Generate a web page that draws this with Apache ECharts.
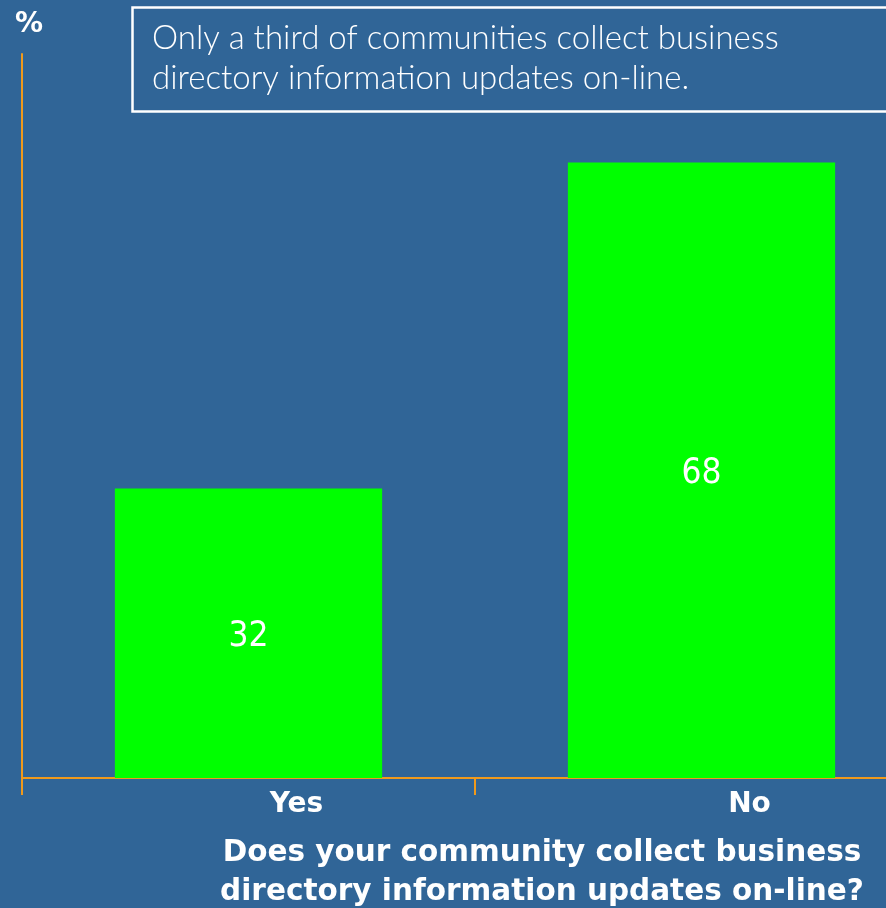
<!DOCTYPE html>
<html>
<head>
<meta charset="utf-8">
<script src="https://cdn.jsdelivr.net/npm/echarts@6/dist/echarts.min.js"></script>
<style>
  html, body { margin: 0; padding: 0; background: #306597; }
  #chart { width: 886px; height: 908px; }
</style>
</head>
<body>
<div id="chart"></div>
<script>
// Survey answers and the share of communities giving each
const categories = ['Yes', 'No'];
const percentages = [32, 68];
const yAxisMax = 80;

const headline = ['Only a third of communities collect business', 'directory information updates on-line.'];
const question = ['Does your community collect business', 'directory information updates on-line?'];

const axisColor = '#F09A1C';
const chart = echarts.init(document.getElementById('chart'));

chart.setOption({
  backgroundColor: '#306597',
  animation: false,
  title: [
    {
      text: '%', left: 10, top: 6,
      textStyle: { color: '#ffffff', fontFamily: 'DejaVu Sans', fontWeight: 'bold', fontSize: 28 }
    },
    {
      text: question.join('\n'), left: 537, top: 829, textAlign: 'center',
      textStyle: { color: '#ffffff', fontFamily: 'DejaVu Sans', fontWeight: 'bold', fontSize: 29.5, lineHeight: 39 }
    }
  ],
  graphic: [
    {
      type: 'rect', left: 130, top: 5,
      shape: { width: 800, height: 104 },
      style: { fill: 'none', stroke: '#ffffff', lineWidth: 2.5 }
    },
    {
      type: 'text', left: 152, top: 18,
      style: { text: headline.join('\n'), fill: '#ffffff', font: '300 33px Lato', lineHeight: 40 }
    }
  ],
  // the plot runs past the right edge of the canvas
  grid: { left: 22, width: 906, top: 54, bottom: 130, containLabel: false, outerBoundsMode: 'none' },
  xAxis: {
    type: 'category',
    data: categories,
    axisLine: { lineStyle: { color: axisColor, width: 2 } },
    axisTick: { show: true, alignWithLabel: false, length: 17, lineStyle: { color: axisColor, width: 2 } },
    axisLabel: {
      color: '#ffffff', fontFamily: 'DejaVu Sans', fontWeight: 'bold', fontSize: 28, margin: 13,
      // category names sit a little right of their bars
      padding: [0, 0, 0, 96]
    }
  },
  yAxis: {
    type: 'value', min: 0, max: yAxisMax,
    axisLine: { show: true, lineStyle: { color: axisColor, width: 2 } },
    axisTick: { show: false },
    axisLabel: { show: false },
    splitLine: { show: false }
  },
  series: [{
    type: 'bar',
    data: percentages,
    barWidth: '59%',
    itemStyle: { color: '#00FF00' },
    label: {
      show: true, position: 'inside', offset: [0, 4],
      color: '#ffffff', fontFamily: '"DejaVu Sans Condensed", "Liberation Sans", sans-serif', fontSize: 35
    }
  }]
});
</script>
</body>
</html>
